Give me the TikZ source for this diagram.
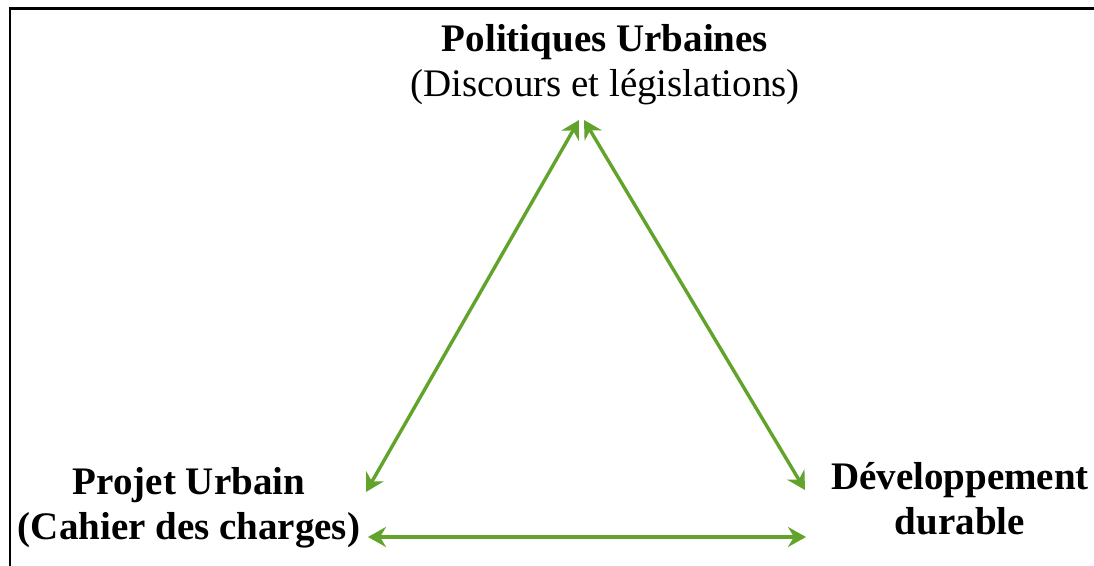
\documentclass[tikz,border=0pt]{standalone}
\usepackage{fontspec}
\setmainfont{Liberation Serif}
\usetikzlibrary{arrows.meta}
\definecolor{arrowgreen}{RGB}{98,163,43}
\tikzset{
  lbl/.style={align=center, inner sep=0pt, font=\fontsize{19.5pt}{22.5pt}\selectfont},
  link/.style={draw=arrowgreen, line width=1.7pt,
    {Stealth[length=9pt,width=10pt,inset=3pt]}-{Stealth[length=9pt,width=10pt,inset=3pt]}},
  frame/.style={line width=1.3pt, draw=black}
}
\begin{document}
\begin{tikzpicture}[x=0.5pt,y=-0.5pt]
\useasboundingbox (0,0) rectangle (1094,566);
\fill[white] (0,0) rectangle (1094,566);
\draw[frame] (10,566) -- (10,8.5) -- (1094,8.5);
% labels
\node[lbl, anchor=base] (pol) at (605,97) {\textbf{Politiques Urbaines}\\(Discours et législations)};
\node[lbl, anchor=base] (proj) at (189,540) {\textbf{Projet Urbain}\\\textbf{(Cahier des charges)}};
\node[lbl, anchor=base] (dev) at (960,535) {\textbf{Développement}\\\textbf{durable}};
% arrow endpoints
\coordinate (apexL) at (579,120);
\coordinate (apexR) at (584,120);
\coordinate (projT) at (366,492);
\coordinate (devT) at (805,490);
\coordinate (projB) at (368,537);
\coordinate (devB) at (806,537);
\draw[link] (apexL) -- (projT);
\draw[link] (apexR) -- (devT);
\draw[link] (projB) -- (devB);
\end{tikzpicture}
\end{document}
